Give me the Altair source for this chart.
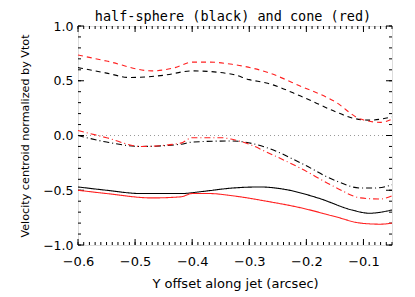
import altair as alt
import pandas as pd

# Data
title_text = ["half-sphere (black) and cone (red)"]

bd_x = [-0.6, -0.55, -0.51, -0.45, -0.40, -0.33, -0.30, -0.27, -0.21, -0.15, -0.12, -0.09, -0.05]
bd_y = [0.62, 0.57, 0.53, 0.55, 0.59, 0.56, 0.51, 0.48, 0.36, 0.22, 0.16, 0.14, 0.17]

rd_x = [-0.6, -0.55, -0.47, -0.43, -0.40, -0.37, -0.33, -0.27, -0.21, -0.15, -0.105, -0.07, -0.05]
rd_y = [0.735, 0.68, 0.59, 0.62, 0.67, 0.67, 0.65, 0.58, 0.45, 0.31, 0.15, 0.12, 0.15]

bdd_x = [-0.6, -0.55, -0.49, -0.42, -0.40, -0.33, -0.27, -0.21, -0.15, -0.105, -0.08, -0.05]
bdd_y = [0.0, -0.06, -0.10, -0.08, -0.06, -0.05, -0.11, -0.25, -0.41, -0.48, -0.48, -0.45]

rdd_x = [-0.6, -0.55, -0.49, -0.42, -0.40, -0.35, -0.33, -0.30, -0.27, -0.21, -0.15, -0.105, -0.07, -0.05]
rdd_y = [0.045, -0.02, -0.10, -0.07, -0.02, -0.02, -0.035, -0.08, -0.15, -0.30, -0.47, -0.57, -0.58, -0.55]

bs_x = [-0.6, -0.55, -0.49, -0.42, -0.38, -0.33, -0.28, -0.24, -0.18, -0.12, -0.09, -0.05]
bs_y = [-0.47, -0.50, -0.53, -0.53, -0.51, -0.48, -0.47, -0.49, -0.57, -0.68, -0.71, -0.68]

rs_x = [-0.6, -0.55, -0.47, -0.42, -0.40, -0.37, -0.33, -0.27, -0.21, -0.15, -0.105, -0.07, -0.05]
rs_y = [-0.50, -0.53, -0.57, -0.56, -0.53, -0.53, -0.55, -0.60, -0.66, -0.74, -0.80, -0.81, -0.80]

zero_x = [-0.6, -0.05]
zero_y = [0.0, 0.0]

x_major = [-0.6, -0.5, -0.4, -0.3, -0.2, -0.1]
x_minor = [round(-0.6 + 0.01 * i, 2) for i in range(56)]
y_major = [-1.0, -0.5, 0.0, 0.5, 1.0]
y_minor = [round(-1.0 + 0.1 * i, 1) for i in range(21)]

W, H = 314, 219
xs = alt.Scale(domain=[-0.6, -0.05], nice=False, zero=False)
ys = alt.Scale(domain=[-1.0, 1.0], nice=False, zero=False)

FONT = "DejaVu Sans"


def line(xv, yv, color, dash):
    df = pd.DataFrame({"x": xv, "y": yv})
    return alt.Chart(df).mark_line(
        color=color, strokeWidth=1.1, strokeDash=dash, interpolate="monotone"
    ).encode(
        x=alt.X("x:Q", scale=xs),
        y=alt.Y("y:Q", scale=ys),
    )


base_axes = alt.Chart(pd.DataFrame({"x": zero_x, "y": zero_y})).mark_line(
    color="#999999", strokeWidth=1, strokeDash=[1, 3]
).encode(
    x=alt.X("x:Q", scale=xs, title="Y offset along jet (arcsec)",
            axis=alt.Axis(values=x_major, format=".1f", ticks=False, domain=False, grid=False,
                          labelFlush=False, labelPadding=10, titlePadding=9,
                          labelFontSize=13, titleFontSize=13,
                          labelFont=FONT, titleFont=FONT, titleFontWeight="normal",
                          labelColor="black", titleColor="black")),
    y=alt.Y("y:Q", scale=ys, title="Velocity centroid normalized by Vtot",
            axis=alt.Axis(values=y_major, format=".1f", ticks=False, domain=False, grid=False,
                          labelFlush=False, labelPadding=5, titlePadding=12,
                          labelFontSize=12.5, titleFontSize=11.2,
                          labelFont=FONT, titleFont=FONT, titleFontWeight="normal",
                          labelColor="black", titleColor="black")),
)


def xticks(vals, length):
    df = pd.DataFrame({"x": vals})
    bot = alt.Chart(df).mark_rule(color="black", strokeWidth=1).encode(
        x=alt.X("x:Q", scale=xs), y=alt.value(H), y2=alt.value(H - length))
    top = alt.Chart(df).mark_rule(color="black", strokeWidth=1).encode(
        x=alt.X("x:Q", scale=xs), y=alt.value(0), y2=alt.value(length))
    return [bot, top]


def yticks(vals, length):
    df = pd.DataFrame({"y": vals})
    left = alt.Chart(df).mark_rule(color="black", strokeWidth=1).encode(
        y=alt.Y("y:Q", scale=ys), x=alt.value(0), x2=alt.value(length))
    right = alt.Chart(df).mark_rule(color="black", strokeWidth=1).encode(
        y=alt.Y("y:Q", scale=ys), x=alt.value(W), x2=alt.value(W - length))
    return [left, right]


title_layer = alt.Chart(pd.DataFrame({"t": title_text})).mark_text(
    font="DejaVu Sans Mono", fontSize=13.5, color="black", align="center", baseline="alphabetic"
).encode(text="t:N", x=alt.value(W / 2 - 2), y=alt.value(-5))

layers = [base_axes]
layers += xticks(x_minor, 3) + xticks(x_major, 6)
layers += yticks(y_minor, 3) + yticks(y_major, 6)
layers += [
    line(bd_x, bd_y, "black", [5, 4]),
    line(rd_x, rd_y, "#ff2020", [5, 4]),
    line(bdd_x, bdd_y, "black", [6, 3, 1, 3]),
    line(rdd_x, rdd_y, "#ff2020", [6, 3, 1, 3]),
    line(bs_x, bs_y, "black", [1, 0]),
    line(rs_x, rs_y, "#ff2020", [1, 0]),
    title_layer,
]

chart = alt.layer(*layers).properties(
    width=W,
    height=H,
    autosize=alt.AutoSizeParams(type="none"),
    padding={"left": 70, "top": 18, "right": 8, "bottom": 52},
).configure_view(stroke="black", strokeWidth=1.2).configure(background="white")

chart.save("out.html", embed_options={"renderer": "svg", "actions": False})
